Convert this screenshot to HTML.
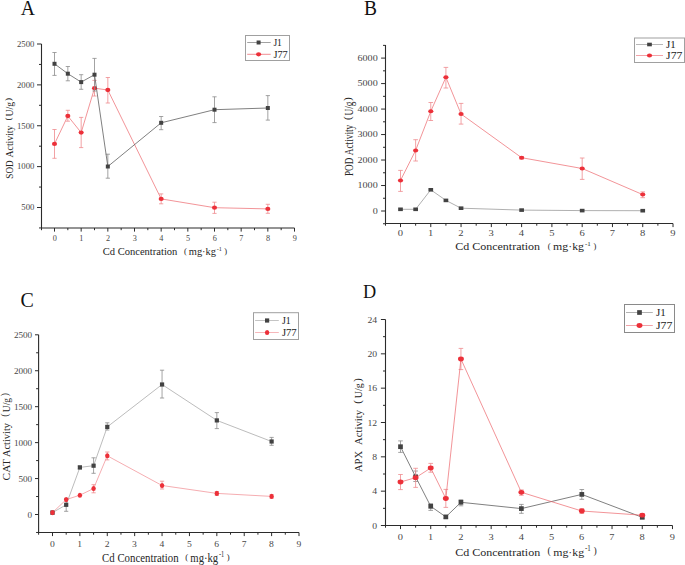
<!DOCTYPE html>
<html><head><meta charset="utf-8"><title>Enzyme activity charts</title>
<style>
html,body{margin:0;padding:0;background:#fff;width:685px;height:565px;overflow:hidden;}
svg{display:block;font-family:"Liberation Serif", serif;}
</style></head><body>
<svg width="685" height="565" viewBox="0 0 685 565" font-family='"Liberation Serif", serif'>
<rect width="685" height="565" fill="#fff"/>
<text x="20.8" y="14.6" font-size="20.3" fill="#111" textLength="14.2" lengthAdjust="spacingAndGlyphs">A</text>
<path d="M41.5 44V228H294.5" fill="none" stroke="#2b2b2b" stroke-width="1.1"/>
<path d="M37 207.5H41.5M37 166.62H41.5M37 125.75H41.5M37 84.88H41.5M37 44H41.5M39 227.94H41.5M39 187.06H41.5M39 146.19H41.5M39 105.31H41.5M39 64.44H41.5M54.5 228V231.6M81.17 228V231.6M107.83 228V231.6M134.5 228V231.6M161.17 228V231.6M187.84 228V231.6M214.5 228V231.6M241.17 228V231.6M267.84 228V231.6M294.5 228V231.6M41.5 228V230.2M67.83 228V230.2M94.5 228V230.2M121.17 228V230.2M147.83 228V230.2M174.5 228V230.2M201.17 228V230.2M227.84 228V230.2M254.5 228V230.2M281.17 228V230.2" fill="none" stroke="#2b2b2b" stroke-width="1"/>
<text x="34.4" y="210.3" font-size="8.3" text-anchor="end" fill="#474747" textLength="13.05" lengthAdjust="spacingAndGlyphs">500</text>
<text x="34.4" y="169.43" font-size="8.3" text-anchor="end" fill="#474747" textLength="17.4" lengthAdjust="spacingAndGlyphs">1000</text>
<text x="34.4" y="128.55" font-size="8.3" text-anchor="end" fill="#474747" textLength="17.4" lengthAdjust="spacingAndGlyphs">1500</text>
<text x="34.4" y="87.67" font-size="8.3" text-anchor="end" fill="#474747" textLength="17.4" lengthAdjust="spacingAndGlyphs">2000</text>
<text x="34.4" y="46.8" font-size="8.3" text-anchor="end" fill="#474747" textLength="17.4" lengthAdjust="spacingAndGlyphs">2500</text>
<text x="52.7" y="240.8" font-size="8.0" fill="#474747" textLength="4.1" lengthAdjust="spacingAndGlyphs">0</text>
<text x="79.37" y="240.8" font-size="8.0" fill="#474747" textLength="4.1" lengthAdjust="spacingAndGlyphs">1</text>
<text x="106.03" y="240.8" font-size="8.0" fill="#474747" textLength="4.1" lengthAdjust="spacingAndGlyphs">2</text>
<text x="132.7" y="240.8" font-size="8.0" fill="#474747" textLength="4.1" lengthAdjust="spacingAndGlyphs">3</text>
<text x="159.37" y="240.8" font-size="8.0" fill="#474747" textLength="4.1" lengthAdjust="spacingAndGlyphs">4</text>
<text x="186.03" y="240.8" font-size="8.0" fill="#474747" textLength="4.1" lengthAdjust="spacingAndGlyphs">5</text>
<text x="212.7" y="240.8" font-size="8.0" fill="#474747" textLength="4.1" lengthAdjust="spacingAndGlyphs">6</text>
<text x="239.37" y="240.8" font-size="8.0" fill="#474747" textLength="4.1" lengthAdjust="spacingAndGlyphs">7</text>
<text x="266.04" y="240.8" font-size="8.0" fill="#474747" textLength="4.1" lengthAdjust="spacingAndGlyphs">8</text>
<text x="292.7" y="240.8" font-size="8.0" fill="#474747" textLength="4.1" lengthAdjust="spacingAndGlyphs">9</text>
<text x="102.7" y="255" font-size="10.0" fill="#262626" textLength="74.7" lengthAdjust="spacingAndGlyphs">Cd Concentration</text>
<text x="185.3" y="253.9" font-size="8.5" fill="#262626" text-anchor="middle">(</text>
<text x="188.8" y="255" font-size="10.0" fill="#262626" textLength="27.2" lengthAdjust="spacingAndGlyphs">mg·kg</text>
<text x="216.8" y="250.7" font-size="5.2" fill="#262626" textLength="5.1" lengthAdjust="spacingAndGlyphs">-1</text>
<text x="225.65" y="253.9" font-size="8.5" fill="#262626" text-anchor="middle">)</text>
<text transform="translate(13 178.7) rotate(-90)" font-size="10.2" fill="#262626" textLength="18.5" lengthAdjust="spacingAndGlyphs">SOD</text>
<text transform="translate(13 157.4) rotate(-90)" font-size="10.2" fill="#262626" textLength="31.8" lengthAdjust="spacingAndGlyphs">Activity</text>
<text transform="translate(13 116.4) rotate(-90)" font-size="10.2" fill="#262626" textLength="14.5" lengthAdjust="spacingAndGlyphs">U/g</text>
<text transform="translate(11.2 118.9) rotate(-90)" font-size="9.18" fill="#262626" text-anchor="middle">(</text>
<text transform="translate(11.2 99.55) rotate(-90)" font-size="9.18" fill="#262626" text-anchor="middle">)</text>
<path d="M54.5 129.5V158.3M52.4 129.5H56.6M52.4 158.3H56.6M67.83 110.3V121.2M65.73 110.3H69.93M65.73 121.2H69.93M81.17 117.4V147.6M79.07 117.4H83.27M79.07 147.6H83.27M94.5 80.4V96M92.4 80.4H96.6M92.4 96H96.6M107.83 77.5V103M105.73 77.5H109.93M105.73 103H109.93M161.17 193.9V203.8M159.07 193.9H163.27M159.07 203.8H163.27M214.5 202.2V213.4M212.4 202.2H216.6M212.4 213.4H216.6M267.84 204.3V213.3M265.74 204.3H269.94M265.74 213.3H269.94" fill="none" stroke="#ef8a8e" stroke-width="0.8"/>
<polyline points="54.5,143.9 67.83,116 81.17,132.6 94.5,88.2 107.83,90 161.17,198.9 214.5,207.7 267.84,208.9" fill="none" stroke="#ec666c" stroke-width="0.7"/>
<ellipse cx="54.5" cy="143.9" rx="2.55" ry="2.15" fill="#ec3039"/>
<ellipse cx="67.83" cy="116" rx="2.55" ry="2.15" fill="#ec3039"/>
<ellipse cx="81.17" cy="132.6" rx="2.55" ry="2.15" fill="#ec3039"/>
<ellipse cx="94.5" cy="88.2" rx="2.55" ry="2.15" fill="#ec3039"/>
<ellipse cx="107.83" cy="90" rx="2.55" ry="2.15" fill="#ec3039"/>
<ellipse cx="161.17" cy="198.9" rx="2.55" ry="2.15" fill="#ec3039"/>
<ellipse cx="214.5" cy="207.7" rx="2.55" ry="2.15" fill="#ec3039"/>
<ellipse cx="267.84" cy="208.9" rx="2.55" ry="2.15" fill="#ec3039"/>
<path d="M54.5 52.5V75.4M52.4 52.5H56.6M52.4 75.4H56.6M67.83 66.5V80.8M65.73 66.5H69.93M65.73 80.8H69.93M81.17 74.7V89.3M79.07 74.7H83.27M79.07 89.3H83.27M94.5 58.4V91M92.4 58.4H96.6M92.4 91H96.6M107.83 154.2V178.2M105.73 154.2H109.93M105.73 178.2H109.93M161.17 116.5V129.7M159.07 116.5H163.27M159.07 129.7H163.27M214.5 96.8V122.6M212.4 96.8H216.6M212.4 122.6H216.6M267.84 95.6V120.1M265.74 95.6H269.94M265.74 120.1H269.94" fill="none" stroke="#8c8c8c" stroke-width="0.8"/>
<polyline points="54.5,63.8 67.83,73.7 81.17,82.1 94.5,74.7 107.83,166.5 161.17,122.8 214.5,109.7 267.84,108" fill="none" stroke="#555555" stroke-width="0.75"/>
<rect x="52.5" y="61.8" width="4" height="4" fill="#424242"/>
<rect x="65.83" y="71.7" width="4" height="4" fill="#424242"/>
<rect x="79.17" y="80.1" width="4" height="4" fill="#424242"/>
<rect x="92.5" y="72.7" width="4" height="4" fill="#424242"/>
<rect x="105.83" y="164.5" width="4" height="4" fill="#424242"/>
<rect x="159.17" y="120.8" width="4" height="4" fill="#424242"/>
<rect x="212.5" y="107.7" width="4" height="4" fill="#424242"/>
<rect x="265.84" y="106" width="4" height="4" fill="#424242"/>
<rect x="245.5" y="35.5" width="44" height="25" fill="#fff" stroke="#a0a0a0" stroke-width="1"/>
<path d="M247.2 42.5H270.7" stroke="#8a8a8a" stroke-width="0.8"/>
<path d="M247.2 54.3H270.7" stroke="#ec7076" stroke-width="0.8"/>
<rect x="256.6" y="40.5" width="4" height="4" fill="#424242"/>
<ellipse cx="258.6" cy="54.3" rx="2.55" ry="2.15" fill="#ec3039"/>
<text x="273.4" y="45.8" font-size="9.6" fill="#222" textLength="8.52" lengthAdjust="spacingAndGlyphs">J1</text>
<text x="273.4" y="57.8" font-size="9.6" fill="#222" textLength="14.3" lengthAdjust="spacingAndGlyphs">J77</text>
<text x="364" y="14.7" font-size="20.7" fill="#111" textLength="13.0" lengthAdjust="spacingAndGlyphs">B</text>
<path d="M385.5 45V223.5H673" fill="none" stroke="#2b2b2b" stroke-width="1.1"/>
<path d="M381.1 211H385.5M381.1 185.52H385.5M381.1 160.03H385.5M381.1 134.55H385.5M381.1 109.07H385.5M381.1 83.59H385.5M381.1 58.1H385.5M383 223.74H385.5M383 198.26H385.5M383 172.78H385.5M383 147.29H385.5M383 121.81H385.5M383 96.33H385.5M383 70.84H385.5M383 45.36H385.5M400.5 223.5V227.1M430.78 223.5V227.1M461.06 223.5V227.1M491.34 223.5V227.1M521.62 223.5V227.1M551.9 223.5V227.1M582.18 223.5V227.1M612.46 223.5V227.1M642.74 223.5V227.1M673.02 223.5V227.1M385.5 223.5V225.7M415.64 223.5V225.7M445.92 223.5V225.7M476.2 223.5V225.7M506.48 223.5V225.7M536.76 223.5V225.7M567.04 223.5V225.7M597.32 223.5V225.7M627.6 223.5V225.7M657.88 223.5V225.7" fill="none" stroke="#2b2b2b" stroke-width="1"/>
<text x="377.7" y="213.9" font-size="8.2" text-anchor="end" fill="#474747" textLength="5.05" lengthAdjust="spacingAndGlyphs">0</text>
<text x="377.7" y="188.42" font-size="8.2" text-anchor="end" fill="#474747" textLength="20.2" lengthAdjust="spacingAndGlyphs">1000</text>
<text x="377.7" y="162.93" font-size="8.2" text-anchor="end" fill="#474747" textLength="20.2" lengthAdjust="spacingAndGlyphs">2000</text>
<text x="377.7" y="137.45" font-size="8.2" text-anchor="end" fill="#474747" textLength="20.2" lengthAdjust="spacingAndGlyphs">3000</text>
<text x="377.7" y="111.97" font-size="8.2" text-anchor="end" fill="#474747" textLength="20.2" lengthAdjust="spacingAndGlyphs">4000</text>
<text x="377.7" y="86.49" font-size="8.2" text-anchor="end" fill="#474747" textLength="20.2" lengthAdjust="spacingAndGlyphs">5000</text>
<text x="377.7" y="61" font-size="8.2" text-anchor="end" fill="#474747" textLength="20.2" lengthAdjust="spacingAndGlyphs">6000</text>
<text x="397.75" y="236.1" font-size="7.8" fill="#474747" textLength="5.3" lengthAdjust="spacingAndGlyphs">0</text>
<text x="428.03" y="236.1" font-size="7.8" fill="#474747" textLength="5.3" lengthAdjust="spacingAndGlyphs">1</text>
<text x="458.31" y="236.1" font-size="7.8" fill="#474747" textLength="5.3" lengthAdjust="spacingAndGlyphs">2</text>
<text x="488.59" y="236.1" font-size="7.8" fill="#474747" textLength="5.3" lengthAdjust="spacingAndGlyphs">3</text>
<text x="518.87" y="236.1" font-size="7.8" fill="#474747" textLength="5.3" lengthAdjust="spacingAndGlyphs">4</text>
<text x="549.15" y="236.1" font-size="7.8" fill="#474747" textLength="5.3" lengthAdjust="spacingAndGlyphs">5</text>
<text x="579.43" y="236.1" font-size="7.8" fill="#474747" textLength="5.3" lengthAdjust="spacingAndGlyphs">6</text>
<text x="609.71" y="236.1" font-size="7.8" fill="#474747" textLength="5.3" lengthAdjust="spacingAndGlyphs">7</text>
<text x="639.99" y="236.1" font-size="7.8" fill="#474747" textLength="5.3" lengthAdjust="spacingAndGlyphs">8</text>
<text x="670.27" y="236.1" font-size="7.8" fill="#474747" textLength="5.3" lengthAdjust="spacingAndGlyphs">9</text>
<text x="455.2" y="250" font-size="10.0" fill="#262626" textLength="84.94" lengthAdjust="spacingAndGlyphs">Cd Concentration</text>
<text x="549.13" y="248.9" font-size="8.5" fill="#262626" text-anchor="middle">(</text>
<text x="553.11" y="250" font-size="10.0" fill="#262626" textLength="30.93" lengthAdjust="spacingAndGlyphs">mg·kg</text>
<text x="584.95" y="245.7" font-size="5.2" fill="#262626" textLength="5.8" lengthAdjust="spacingAndGlyphs">-1</text>
<text x="595.01" y="248.9" font-size="8.5" fill="#262626" text-anchor="middle">)</text>
<text transform="translate(353 176.1) rotate(-90)" font-size="12.0" fill="#262626" textLength="18.4" lengthAdjust="spacingAndGlyphs">POD</text>
<text transform="translate(353 155.2) rotate(-90)" font-size="12.0" fill="#262626" textLength="30.4" lengthAdjust="spacingAndGlyphs">Activity</text>
<text transform="translate(353 115.5) rotate(-90)" font-size="12.0" fill="#262626" textLength="13.8" lengthAdjust="spacingAndGlyphs">U/g</text>
<text transform="translate(351.2 118.2) rotate(-90)" font-size="10.44" fill="#262626" text-anchor="middle">(</text>
<text transform="translate(351.2 99.05) rotate(-90)" font-size="10.44" fill="#262626" text-anchor="middle">)</text>
<path d="" fill="none" stroke="#8c8c8c" stroke-width="0.8"/>
<polyline points="400.5,209.3 415.64,209.3 430.78,189.8 445.92,200.4 461.06,208.2 521.62,210.1 582.18,210.6 642.74,210.7" fill="none" stroke="#959595" stroke-width="0.75"/>
<rect x="398.16" y="207.5" width="4.68" height="3.6" fill="#424242"/>
<rect x="413.3" y="207.5" width="4.68" height="3.6" fill="#424242"/>
<rect x="428.44" y="188" width="4.68" height="3.6" fill="#424242"/>
<rect x="443.58" y="198.6" width="4.68" height="3.6" fill="#424242"/>
<rect x="458.72" y="206.4" width="4.68" height="3.6" fill="#424242"/>
<rect x="519.28" y="208.3" width="4.68" height="3.6" fill="#424242"/>
<rect x="579.84" y="208.8" width="4.68" height="3.6" fill="#424242"/>
<rect x="640.4" y="208.9" width="4.68" height="3.6" fill="#424242"/>
<path d="M400.5 170.4V191.4M398.2 170.4H402.8M398.2 191.4H402.8M415.64 139.7V161M413.34 139.7H417.94M413.34 161H417.94M430.78 102.5V120.5M428.48 102.5H433.08M428.48 120.5H433.08M445.92 67.4V88M443.62 67.4H448.22M443.62 88H448.22M461.06 103.4V124.1M458.76 103.4H463.36M458.76 124.1H463.36M521.62 156.5V159M519.32 156.5H523.92M519.32 159H523.92M582.18 158V179.4M579.88 158H584.48M579.88 179.4H584.48M642.74 191.9V197.7M640.44 191.9H645.04M640.44 197.7H645.04" fill="none" stroke="#ef8a8e" stroke-width="0.8"/>
<polyline points="400.5,180.4 415.64,150.4 430.78,111.3 445.92,77.3 461.06,114 521.62,157.7 582.18,168.5 642.74,194.6" fill="none" stroke="#ec666c" stroke-width="0.7"/>
<ellipse cx="400.5" cy="180.4" rx="2.6" ry="2" fill="#ec3039"/>
<ellipse cx="415.64" cy="150.4" rx="2.6" ry="2" fill="#ec3039"/>
<ellipse cx="430.78" cy="111.3" rx="2.6" ry="2" fill="#ec3039"/>
<ellipse cx="445.92" cy="77.3" rx="2.6" ry="2" fill="#ec3039"/>
<ellipse cx="461.06" cy="114" rx="2.6" ry="2" fill="#ec3039"/>
<ellipse cx="521.62" cy="157.7" rx="2.6" ry="2" fill="#ec3039"/>
<ellipse cx="582.18" cy="168.5" rx="2.6" ry="2" fill="#ec3039"/>
<ellipse cx="642.74" cy="194.6" rx="2.6" ry="2" fill="#ec3039"/>
<rect x="634.5" y="38" width="50" height="24.5" fill="#fff" stroke="#a0a0a0" stroke-width="1"/>
<path d="M636 44.5H663" stroke="#a5a5a5" stroke-width="0.8"/>
<path d="M636 55.5H663" stroke="#f08a90" stroke-width="0.8"/>
<rect x="647.16" y="42.7" width="4.68" height="3.6" fill="#424242"/>
<ellipse cx="649.5" cy="55.5" rx="2.6" ry="2" fill="#ec3039"/>
<text x="666.1" y="48" font-size="10.3" fill="#222" textLength="9.71" lengthAdjust="spacingAndGlyphs">J1</text>
<text x="666.1" y="58.8" font-size="10.3" fill="#222" textLength="16.3" lengthAdjust="spacingAndGlyphs">J77</text>
<text x="20.6" y="306.8" font-size="21.0" fill="#111" textLength="13.3" lengthAdjust="spacingAndGlyphs">C</text>
<path d="M38.6 334.8V532.5H299" fill="none" stroke="#2b2b2b" stroke-width="1.1"/>
<path d="M35 514.5H38.6M35 478.56H38.6M35 442.62H38.6M35 406.68H38.6M35 370.74H38.6M35 334.8H38.6M36.1 532.47H38.6M36.1 496.53H38.6M36.1 460.59H38.6M36.1 424.65H38.6M36.1 388.71H38.6M36.1 352.77H38.6M52.5 532.5V536.1M79.89 532.5V536.1M107.28 532.5V536.1M134.67 532.5V536.1M162.06 532.5V536.1M189.45 532.5V536.1M216.84 532.5V536.1M244.23 532.5V536.1M271.62 532.5V536.1M299.01 532.5V536.1M38.6 532.5V534.7M66.19 532.5V534.7M93.59 532.5V534.7M120.97 532.5V534.7M148.37 532.5V534.7M175.75 532.5V534.7M203.15 532.5V534.7M230.53 532.5V534.7M257.93 532.5V534.7M285.31 532.5V534.7" fill="none" stroke="#2b2b2b" stroke-width="1"/>
<text x="32.2" y="517.8" font-size="8.6" text-anchor="end" fill="#474747" textLength="4.58" lengthAdjust="spacingAndGlyphs">0</text>
<text x="32.2" y="481.86" font-size="8.6" text-anchor="end" fill="#474747" textLength="13.73" lengthAdjust="spacingAndGlyphs">500</text>
<text x="32.2" y="445.92" font-size="8.6" text-anchor="end" fill="#474747" textLength="18.3" lengthAdjust="spacingAndGlyphs">1000</text>
<text x="32.2" y="409.98" font-size="8.6" text-anchor="end" fill="#474747" textLength="18.3" lengthAdjust="spacingAndGlyphs">1500</text>
<text x="32.2" y="374.04" font-size="8.6" text-anchor="end" fill="#474747" textLength="18.3" lengthAdjust="spacingAndGlyphs">2000</text>
<text x="32.2" y="338.1" font-size="8.6" text-anchor="end" fill="#474747" textLength="18.3" lengthAdjust="spacingAndGlyphs">2500</text>
<text x="49.95" y="546.8" font-size="8.8" fill="#474747" textLength="4.8" lengthAdjust="spacingAndGlyphs">0</text>
<text x="77.34" y="546.8" font-size="8.8" fill="#474747" textLength="4.8" lengthAdjust="spacingAndGlyphs">1</text>
<text x="104.73" y="546.8" font-size="8.8" fill="#474747" textLength="4.8" lengthAdjust="spacingAndGlyphs">2</text>
<text x="132.12" y="546.8" font-size="8.8" fill="#474747" textLength="4.8" lengthAdjust="spacingAndGlyphs">3</text>
<text x="159.51" y="546.8" font-size="8.8" fill="#474747" textLength="4.8" lengthAdjust="spacingAndGlyphs">4</text>
<text x="186.9" y="546.8" font-size="8.8" fill="#474747" textLength="4.8" lengthAdjust="spacingAndGlyphs">5</text>
<text x="214.29" y="546.8" font-size="8.8" fill="#474747" textLength="4.8" lengthAdjust="spacingAndGlyphs">6</text>
<text x="241.68" y="546.8" font-size="8.8" fill="#474747" textLength="4.8" lengthAdjust="spacingAndGlyphs">7</text>
<text x="269.07" y="546.8" font-size="8.8" fill="#474747" textLength="4.8" lengthAdjust="spacingAndGlyphs">8</text>
<text x="296.46" y="546.8" font-size="8.8" fill="#474747" textLength="4.8" lengthAdjust="spacingAndGlyphs">9</text>
<text x="102.1" y="562" font-size="12.0" fill="#262626" textLength="76.56" lengthAdjust="spacingAndGlyphs">Cd Concentration</text>
<text x="186.75" y="559.75" font-size="8.76" fill="#262626" text-anchor="middle">(</text>
<text x="190.34" y="562" font-size="12.0" fill="#262626" textLength="27.88" lengthAdjust="spacingAndGlyphs">mg·kg</text>
<text x="219.04" y="557.4" font-size="7.92" fill="#262626" textLength="5.23" lengthAdjust="spacingAndGlyphs">-1</text>
<text x="228.11" y="559.75" font-size="8.76" fill="#262626" text-anchor="middle">)</text>
<text transform="translate(9.8 480.4) rotate(-90)" font-size="10.4" fill="#262626" textLength="21.4" lengthAdjust="spacingAndGlyphs">CAT</text>
<text transform="translate(9.8 457) rotate(-90)" font-size="10.4" fill="#262626" textLength="34" lengthAdjust="spacingAndGlyphs">Activity</text>
<text transform="translate(9.8 412.2) rotate(-90)" font-size="10.4" fill="#262626" textLength="14.2" lengthAdjust="spacingAndGlyphs">U/g</text>
<text transform="translate(8.04 415.2) rotate(-90)" font-size="9.78" fill="#262626" text-anchor="middle">(</text>
<text transform="translate(8.04 394.7) rotate(-90)" font-size="9.78" fill="#262626" text-anchor="middle">)</text>
<path d="M52.5 511V514.2M50.4 511H54.6M50.4 514.2H54.6M66.19 498.4V511.3M64.09 498.4H68.29M64.09 511.3H68.29M79.89 466V469M77.79 466H81.99M77.79 469H81.99M93.59 457.8V473.3M91.49 457.8H95.69M91.49 473.3H95.69M107.28 422.8V430M105.18 422.8H109.38M105.18 430H109.38M162.06 370.2V398M159.96 370.2H164.16M159.96 398H164.16M216.84 412.6V428.6M214.74 412.6H218.94M214.74 428.6H218.94M271.62 437.4V445.3M269.52 437.4H273.72M269.52 445.3H273.72" fill="none" stroke="#8c8c8c" stroke-width="0.8"/>
<polyline points="52.5,512.6 66.19,504.8 79.89,467.4 93.59,465.7 107.28,426.9 162.06,384.5 216.84,420.4 271.62,441.5" fill="none" stroke="#a5a5a5" stroke-width="0.75"/>
<rect x="50.4" y="510.5" width="4.2" height="4.2" fill="#424242"/>
<rect x="64.09" y="502.7" width="4.2" height="4.2" fill="#424242"/>
<rect x="77.79" y="465.3" width="4.2" height="4.2" fill="#424242"/>
<rect x="91.49" y="463.6" width="4.2" height="4.2" fill="#424242"/>
<rect x="105.18" y="424.8" width="4.2" height="4.2" fill="#424242"/>
<rect x="159.96" y="382.4" width="4.2" height="4.2" fill="#424242"/>
<rect x="214.74" y="418.3" width="4.2" height="4.2" fill="#424242"/>
<rect x="269.52" y="439.4" width="4.2" height="4.2" fill="#424242"/>
<path d="M93.59 484.7V492.8M91.49 484.7H95.69M91.49 492.8H95.69M107.28 452V459.9M105.18 452H109.38M105.18 459.9H109.38M162.06 481.2V489M159.96 481.2H164.16M159.96 489H164.16M216.84 491.6V495.2M214.74 491.6H218.94M214.74 495.2H218.94M271.62 494.8V498M269.52 494.8H273.72M269.52 498H273.72" fill="none" stroke="#ef8a8e" stroke-width="0.8"/>
<polyline points="52.5,512.6 66.19,499.6 79.89,495.2 93.59,488.5 107.28,455.8 162.06,485.5 216.84,493.4 271.62,496.4" fill="none" stroke="#f08086" stroke-width="0.65"/>
<ellipse cx="52.5" cy="512.6" rx="2.2" ry="2.55" fill="#ec3039"/>
<ellipse cx="66.19" cy="499.6" rx="2.2" ry="2.55" fill="#ec3039"/>
<ellipse cx="79.89" cy="495.2" rx="2.2" ry="2.55" fill="#ec3039"/>
<ellipse cx="93.59" cy="488.5" rx="2.2" ry="2.55" fill="#ec3039"/>
<ellipse cx="107.28" cy="455.8" rx="2.2" ry="2.55" fill="#ec3039"/>
<ellipse cx="162.06" cy="485.5" rx="2.2" ry="2.55" fill="#ec3039"/>
<ellipse cx="216.84" cy="493.4" rx="2.2" ry="2.55" fill="#ec3039"/>
<ellipse cx="271.62" cy="496.4" rx="2.2" ry="2.55" fill="#ec3039"/>
<rect x="253.5" y="312.7" width="45" height="26.8" fill="#fff" stroke="#a0a0a0" stroke-width="1"/>
<path d="M255.1 320.5H278.8" stroke="#b5b5b5" stroke-width="0.8"/>
<path d="M255.1 332.5H278.8" stroke="#f4a5a8" stroke-width="0.8"/>
<rect x="265" y="318.4" width="4.2" height="4.2" fill="#424242"/>
<ellipse cx="267.1" cy="332.5" rx="2.2" ry="2.55" fill="#ec3039"/>
<text x="281.9" y="323.9" font-size="10.0" fill="#222" textLength="8.81" lengthAdjust="spacingAndGlyphs">J1</text>
<text x="281.9" y="336.2" font-size="10.0" fill="#222" textLength="14.8" lengthAdjust="spacingAndGlyphs">J77</text>
<text x="363" y="298.4" font-size="19" fill="#111" textLength="13.2" lengthAdjust="spacingAndGlyphs">D</text>
<path d="M385.5 319.51V525.5H672.5" fill="none" stroke="#2b2b2b" stroke-width="1.1"/>
<path d="M380.9 525.5H385.5M380.9 491.17H385.5M380.9 456.84H385.5M380.9 422.5H385.5M380.9 388.17H385.5M380.9 353.84H385.5M380.9 319.51H385.5M383 508.33H385.5M383 474H385.5M383 439.67H385.5M383 405.34H385.5M383 371.01H385.5M383 336.67H385.5M400.5 525.5V529.1M430.72 525.5V529.1M460.94 525.5V529.1M491.16 525.5V529.1M521.38 525.5V529.1M551.6 525.5V529.1M581.82 525.5V529.1M612.04 525.5V529.1M642.26 525.5V529.1M672.48 525.5V529.1M385.5 525.5V527.7M415.61 525.5V527.7M445.83 525.5V527.7M476.05 525.5V527.7M506.27 525.5V527.7M536.49 525.5V527.7M566.71 525.5V527.7M596.93 525.5V527.7M627.15 525.5V527.7M657.37 525.5V527.7" fill="none" stroke="#2b2b2b" stroke-width="1"/>
<text x="377.2" y="528.8" font-size="8.8" text-anchor="end" fill="#474747" textLength="4.85" lengthAdjust="spacingAndGlyphs">0</text>
<text x="377.2" y="494.47" font-size="8.8" text-anchor="end" fill="#474747" textLength="4.85" lengthAdjust="spacingAndGlyphs">4</text>
<text x="377.2" y="460.14" font-size="8.8" text-anchor="end" fill="#474747" textLength="4.85" lengthAdjust="spacingAndGlyphs">8</text>
<text x="377.2" y="425.8" font-size="8.8" text-anchor="end" fill="#474747" textLength="9.7" lengthAdjust="spacingAndGlyphs">12</text>
<text x="377.2" y="391.47" font-size="8.8" text-anchor="end" fill="#474747" textLength="9.7" lengthAdjust="spacingAndGlyphs">16</text>
<text x="377.2" y="357.14" font-size="8.8" text-anchor="end" fill="#474747" textLength="9.7" lengthAdjust="spacingAndGlyphs">20</text>
<text x="377.2" y="322.81" font-size="8.8" text-anchor="end" fill="#474747" textLength="9.7" lengthAdjust="spacingAndGlyphs">24</text>
<text x="397.8" y="539.7" font-size="8.6" fill="#474747" textLength="5.2" lengthAdjust="spacingAndGlyphs">0</text>
<text x="428.02" y="539.7" font-size="8.6" fill="#474747" textLength="5.2" lengthAdjust="spacingAndGlyphs">1</text>
<text x="458.24" y="539.7" font-size="8.6" fill="#474747" textLength="5.2" lengthAdjust="spacingAndGlyphs">2</text>
<text x="488.46" y="539.7" font-size="8.6" fill="#474747" textLength="5.2" lengthAdjust="spacingAndGlyphs">3</text>
<text x="518.68" y="539.7" font-size="8.6" fill="#474747" textLength="5.2" lengthAdjust="spacingAndGlyphs">4</text>
<text x="548.9" y="539.7" font-size="8.6" fill="#474747" textLength="5.2" lengthAdjust="spacingAndGlyphs">5</text>
<text x="579.12" y="539.7" font-size="8.6" fill="#474747" textLength="5.2" lengthAdjust="spacingAndGlyphs">6</text>
<text x="609.34" y="539.7" font-size="8.6" fill="#474747" textLength="5.2" lengthAdjust="spacingAndGlyphs">7</text>
<text x="639.56" y="539.7" font-size="8.6" fill="#474747" textLength="5.2" lengthAdjust="spacingAndGlyphs">8</text>
<text x="669.78" y="539.7" font-size="8.6" fill="#474747" textLength="5.2" lengthAdjust="spacingAndGlyphs">9</text>
<text x="455.2" y="555.7" font-size="10.6" fill="#262626" textLength="85" lengthAdjust="spacingAndGlyphs">Cd Concentration</text>
<text x="549.19" y="553.85" font-size="9.75" fill="#262626" text-anchor="middle">(</text>
<text x="553.18" y="555.7" font-size="10.6" fill="#262626" textLength="30.95" lengthAdjust="spacingAndGlyphs">mg·kg</text>
<text x="585.04" y="550.8" font-size="7.31" fill="#262626" textLength="5.8" lengthAdjust="spacingAndGlyphs">-1</text>
<text x="595.11" y="553.85" font-size="9.75" fill="#262626" text-anchor="middle">)</text>
<text transform="translate(361.9 472.1) rotate(-90)" font-size="10.6" fill="#262626" textLength="21.3" lengthAdjust="spacingAndGlyphs">APX</text>
<text transform="translate(361.9 445) rotate(-90)" font-size="10.6" fill="#262626" textLength="35" lengthAdjust="spacingAndGlyphs">Activity</text>
<text transform="translate(361.9 398.2) rotate(-90)" font-size="10.6" fill="#262626" textLength="14.8" lengthAdjust="spacingAndGlyphs">U/g</text>
<text transform="translate(360.9 401.9) rotate(-90)" font-size="10.6" fill="#262626" text-anchor="middle">(</text>
<text transform="translate(360.9 379.9) rotate(-90)" font-size="10.6" fill="#262626" text-anchor="middle">)</text>
<path d="M400.5 440.9V452.4M398.2 440.9H402.8M398.2 452.4H402.8M415.61 471V481.5M413.31 471H417.91M413.31 481.5H417.91M430.72 503.7V510.4M428.42 503.7H433.02M428.42 510.4H433.02M445.83 515.5V518.3M443.53 515.5H448.13M443.53 518.3H448.13M460.94 499.8V505.8M458.64 499.8H463.24M458.64 505.8H463.24M521.38 504.4V513.3M519.08 504.4H523.68M519.08 513.3H523.68M581.82 489.5V499.3M579.52 489.5H584.12M579.52 499.3H584.12M642.26 516V518.6M639.96 516H644.56M639.96 518.6H644.56" fill="none" stroke="#8c8c8c" stroke-width="0.8"/>
<polyline points="400.5,446.7 415.61,476.8 430.72,506.3 445.83,516.9 460.94,502.3 521.38,508.6 581.82,494.4 642.26,517.3" fill="none" stroke="#555555" stroke-width="0.75"/>
<rect x="398.15" y="444.35" width="4.7" height="4.7" fill="#424242"/>
<rect x="413.26" y="474.45" width="4.7" height="4.7" fill="#424242"/>
<rect x="428.37" y="503.95" width="4.7" height="4.7" fill="#424242"/>
<rect x="443.48" y="514.55" width="4.7" height="4.7" fill="#424242"/>
<rect x="458.59" y="499.95" width="4.7" height="4.7" fill="#424242"/>
<rect x="519.03" y="506.25" width="4.7" height="4.7" fill="#424242"/>
<rect x="579.47" y="492.05" width="4.7" height="4.7" fill="#424242"/>
<rect x="639.91" y="514.95" width="4.7" height="4.7" fill="#424242"/>
<path d="M400.5 474.5V489.6M398.2 474.5H402.8M398.2 489.6H402.8M415.61 468.3V487.4M413.31 468.3H417.91M413.31 487.4H417.91M430.72 463.4V472.2M428.42 463.4H433.02M428.42 472.2H433.02M445.83 489.4V507.4M443.53 489.4H448.13M443.53 507.4H448.13M460.94 348.4V369.6M458.64 348.4H463.24M458.64 369.6H463.24M521.38 489.9V495.3M519.08 489.9H523.68M519.08 495.3H523.68M581.82 508.5V513.5M579.52 508.5H584.12M579.52 513.5H584.12M642.26 514V516.4M639.96 514H644.56M639.96 516.4H644.56" fill="none" stroke="#ef8a8e" stroke-width="0.8"/>
<polyline points="400.5,482 415.61,477.7 430.72,468 445.83,498.5 460.94,359 521.38,492.3 581.82,511 642.26,515.2" fill="none" stroke="#ec666c" stroke-width="0.7"/>
<ellipse cx="400.5" cy="482" rx="2.95" ry="2.4" fill="#ec3039"/>
<ellipse cx="415.61" cy="477.7" rx="2.95" ry="2.4" fill="#ec3039"/>
<ellipse cx="430.72" cy="468" rx="2.95" ry="2.4" fill="#ec3039"/>
<ellipse cx="445.83" cy="498.5" rx="2.95" ry="2.4" fill="#ec3039"/>
<ellipse cx="460.94" cy="359" rx="2.95" ry="2.4" fill="#ec3039"/>
<ellipse cx="521.38" cy="492.3" rx="2.95" ry="2.4" fill="#ec3039"/>
<ellipse cx="581.82" cy="511" rx="2.95" ry="2.4" fill="#ec3039"/>
<ellipse cx="642.26" cy="515.2" rx="2.95" ry="2.4" fill="#ec3039"/>
<rect x="624.5" y="304.5" width="50" height="28" fill="#fff" stroke="#8a8a8a" stroke-width="1"/>
<path d="M626 312.5H652.8" stroke="#a0a0a0" stroke-width="0.8"/>
<path d="M626 325.5H652.8" stroke="#ee8a90" stroke-width="0.8"/>
<rect x="637.15" y="310.15" width="4.7" height="4.7" fill="#424242"/>
<ellipse cx="639.5" cy="325.5" rx="2.95" ry="2.4" fill="#ec3039"/>
<text x="655.9" y="315.9" font-size="11.2" fill="#222" textLength="9.83" lengthAdjust="spacingAndGlyphs">J1</text>
<text x="655.9" y="329" font-size="11.2" fill="#222" textLength="16.5" lengthAdjust="spacingAndGlyphs">J77</text>
</svg>
</body></html>
